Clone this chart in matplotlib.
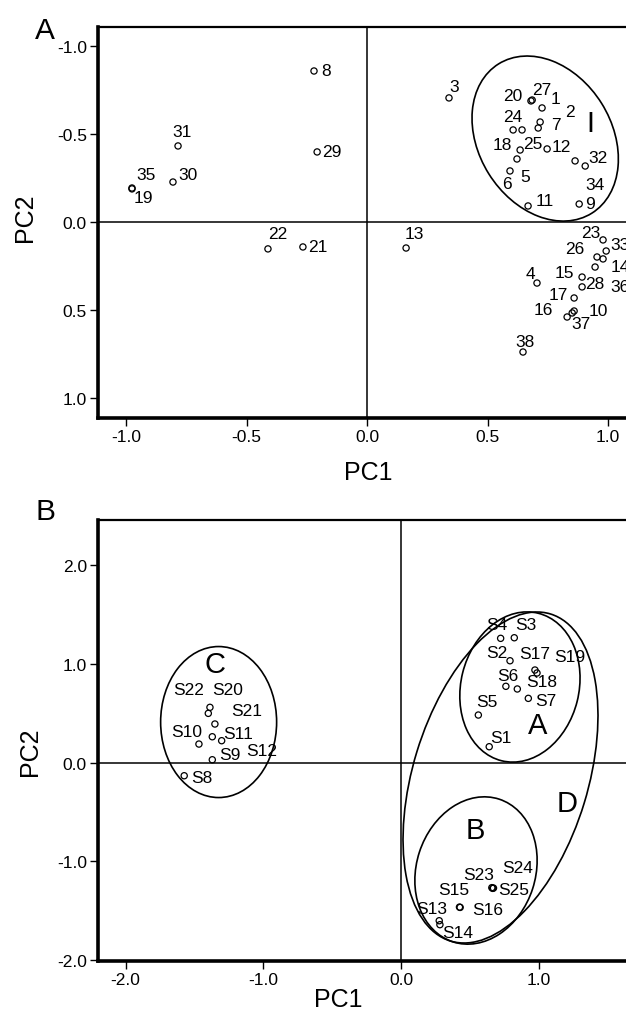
import matplotlib
matplotlib.use("Agg")
import matplotlib.pyplot as plt
from matplotlib.patches import Ellipse
from matplotlib.transforms import IdentityTransform

plt.rcParams['font.family'] = ['Liberation Sans', 'DejaVu Sans']
plt.rcParams['axes.unicode_minus'] = False

# panel A: variables 1..38
ids_a = [str(i) for i in range(1, 39)]
pc1_a = [0.726, 0.718, 0.340, 0.705, 0.622, 0.593, 0.710, -0.220, 0.880, 0.859,
         0.668, 0.747, 0.162, 0.979, 0.892, 0.830, 0.859, 0.635, -0.975, 0.680,
         -0.266, -0.411, 0.979, 0.606, 0.643, 0.954, 0.685, 0.892, -0.207, -0.805,
         -0.784, 0.905, 0.992, 0.863, -0.975, 0.946, 0.851, 0.647]
pc2_a = [-0.648, -0.568, -0.705, 0.347, -0.358, -0.290, -0.534, -0.858, -0.102, 0.506,
         -0.091, -0.415, 0.148, 0.210, 0.313, 0.540, 0.432, -0.409, -0.188, -0.688,
         0.142, 0.153, 0.102, -0.523, -0.523, 0.199, -0.693, 0.369, -0.398, -0.227,
         -0.432, -0.318, 0.165, -0.347, -0.193, 0.256, 0.517, 0.739]

# panel B: samples S1..S25
ids_b = ['S%d' % i for i in range(1, 26)]
pc1_b = [0.641, 0.792, 0.823, 0.724, 0.562, 0.762, 0.925, -1.574, -1.370, -1.467,
         -1.370, -1.302, 0.278, 0.283, 0.425, 0.430, 0.973, 0.845, 0.988, -1.387,
         -1.351, -1.399, 0.660, 0.672, 0.666]
pc2_b = [0.160, 1.031, 1.264, 1.258, 0.481, 0.772, 0.650, -0.134, 0.028, 0.187,
         0.261, 0.221, -1.603, -1.643, -1.465, -1.468, 0.937, 0.745, 0.907, 0.559,
         0.390, 0.498, -1.268, -1.272, -1.275]

# label offsets in pixels (right, down) from each point
off_a = [(13, -9), (30, -11), (5, -11), (-7, -10), (8, 18), (-3, 13), (18, -4), (12, 0),
         (11, -1), (24, -1), (17, -5), (14, -2), (8, -15), (17, 8), (-18, -5), (-24, -7),
         (-16, -3), (-18, -6), (11, 9), (-18, -5), (15, 0), (10, -15), (-12, -7), (0, -13),
         (11, 14), (-22, -8), (10, -11), (13, -3), (15, 0), (15, -8), (4, -14), (13, -9),
         (14, -7), (20, 24), (14, -14), (25, 19), (9, 11), (2, -11)]
off_b = [(12, -9), (-13, -8), (12, -13), (-4, -14), (9, -14), (2, -11), (17, 2), (18, 2),
         (18, -5), (-12, -13), (26, -3), (40, 10), (-8, -12), (18, 8), (-6, -18), (28, 2),
         (0, -17), (24, -7), (33, -16), (18, -18), (32, -14), (-20, -24), (-13, -13),
         (24, -21), (21, 1)]

fig = plt.figure(figsize=(6.26, 10.12), dpi=100)
W, H = 626.0, 1012.0


def px_axes(l, t, r, b):
    return fig.add_axes([l / W, 1 - b / H, (r - l) / W, (b - t) / H])


def style(ax, xt, yt):
    ax.set_xticks(xt)
    ax.set_yticks(yt)
    ax.set_xticklabels(['%.1f' % v for v in xt])
    ax.set_yticklabels(['%.1f' % v for v in yt])
    ax.tick_params(direction='out', length=6, width=1, labelsize=12.5, pad=2,
                   top=False, right=False)
    ax.spines['left'].set_linewidth(2.6)
    ax.spines['bottom'].set_linewidth(2.6)
    ax.spines['top'].set_linewidth(1.6)
    ax.spines['right'].set_visible(False)
    ax.axhline(0, color='k', lw=1.1)
    ax.axvline(0, color='k', lw=1.1)


def ring(ax, cx, cy, w, h, ang):
    x, y = ax.transData.transform((cx, cy))
    ax.add_patch(Ellipse((x, y), w, h, angle=ang, transform=IdentityTransform(),
                         fill=False, ec='k', lw=1.2))


def points(ax, xs, ys, ids, offs):
    ax.scatter(xs, ys, s=20, facecolors='none', edgecolors='k', linewidths=0.9, zorder=3)
    for x, y, t, (dx, dy) in zip(xs, ys, ids, offs):
        ax.annotate(t, (x, y), xytext=(dx, -dy), textcoords='offset pixels',
                    ha='center', va='center', fontsize=12.5)


# ---- A
ax1 = px_axes(98, 28, 638, 419)
ax1.set_xlim(-1.116, 1.124)
ax1.set_ylim(1.114, -1.108)
style(ax1, [-1.0, -0.5, 0.0, 0.5, 1.0], [-1.0, -0.5, 0.0, 0.5, 1.0])
points(ax1, pc1_a, pc2_a, ids_a, off_a)
ring(ax1, 0.739, -0.474, 176, 133, -58)
ax1.text(0.925, -0.562, 'I', fontsize=21, ha='center', va='center')

# ---- B
ax2 = px_axes(98, 521, 640, 962)
ax2.set_xlim(-2.2, 1.736)
ax2.set_ylim(-2.011, 2.457)
style(ax2, [-2.0, -1.0, 0.0, 1.0], [-2.0, -1.0, 0.0, 1.0, 2.0])
points(ax2, pc1_b, pc2_b, ids_b, off_b)
ring(ax2, -1.324, 0.41, 116, 151, 0)
ring(ax2, 0.864, 0.765, 152, 118, 76)
ring(ax2, 0.723, -0.152, 342, 175, 73)
ring(ax2, 0.545, -1.094, 150, 119, 72)
for t, x, y in [('C', -1.351, 0.998), ('A', 0.991, 0.380), ('B', 0.537, -0.684), ('D', 1.206, -0.41)]:
    ax2.text(x, y, t, fontsize=21, ha='center', va='center')

# axis titles and panel letters
fig.text(368 / W, 1 - 473 / H, 'PC1', fontsize=18, ha='center', va='center')
fig.text(25 / W, 1 - 218 / H, 'PC2', fontsize=18, ha='center', va='center', rotation=90)
fig.text(338 / W, 1 - 1000 / H, 'PC1', fontsize=18, ha='center', va='center')
fig.text(30 / W, 1 - 752 / H, 'PC2', fontsize=18, ha='center', va='center', rotation=90)
fig.text(45 / W, 1 - 31 / H, 'A', fontsize=21.5, ha='center', va='center')
fig.text(45 / W, 1 - 512 / H, 'B', fontsize=21.5, ha='center', va='center')

fig.savefig('out.png', dpi=100)
